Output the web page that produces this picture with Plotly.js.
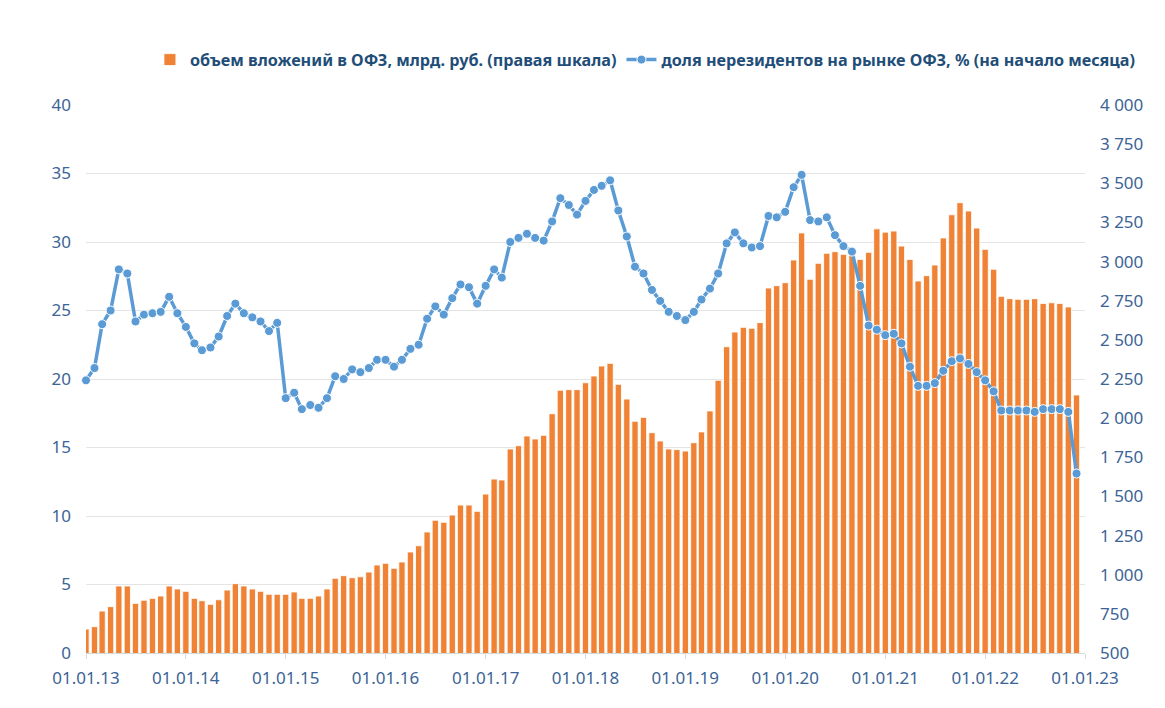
<!DOCTYPE html>
<html>
<head>
<meta charset="utf-8">
<script src="https://cdn.plot.ly/plotly-3.0.1.min.js"></script>
<style>
  html, body { margin: 0; padding: 0; background: #ffffff; }
  #chart { width: 1165px; height: 708px; }
</style>
</head>
<body>
<div id="chart"></div>
<script>
// Monthly observations, Jan 2013 .. Dec 2022
const startYear = 2013;
const monthCount = 120;

// Share of non-residents in OFZ market, % (left axis)
const shareNonResidents = [
  19.9, 20.8, 24.0, 25.0, 28.0, 27.7, 24.2, 24.7, 24.8, 24.9, 26.0, 24.8,
  23.8, 22.6, 22.1, 22.3, 23.1, 24.6, 25.5, 24.8, 24.5, 24.2, 23.5, 24.1,
  18.6, 19.0, 17.8, 18.1, 17.9, 18.6, 20.2, 20.0, 20.7, 20.5, 20.8, 21.4,
  21.4, 20.9, 21.4, 22.2, 22.5, 24.4, 25.3, 24.7, 25.9, 26.9, 26.7, 25.5,
  26.8, 28.0, 27.4, 30.0, 30.3, 30.6, 30.3, 30.1, 31.5, 33.2, 32.7, 32.0,
  33.0, 33.8, 34.1, 34.5, 32.3, 30.4, 28.2, 27.7, 26.5, 25.7, 24.9, 24.6,
  24.3, 24.9, 25.8, 26.6, 27.7, 29.9, 30.7, 29.9, 29.6, 29.7, 31.9, 31.8,
  32.2, 34.0, 34.9, 31.6, 31.5, 31.8, 30.5, 29.7, 29.3, 26.8, 23.9, 23.6,
  23.2, 23.3, 22.6, 20.9, 19.5, 19.5, 19.7, 20.6, 21.3, 21.5, 21.1, 20.5,
  19.9, 19.1, 17.7, 17.7, 17.7, 17.7, 17.6, 17.8, 17.8, 17.8, 17.6, 13.1
];

// Volume of non-resident OFZ holdings, bn rub (right axis)
const volumeOFZ = [
  653, 668, 768, 796, 928, 928, 817, 837, 849, 864, 928, 909,
  894, 849, 834, 811, 840, 902, 943, 928, 909, 894, 875, 875,
  875, 890, 849, 849, 864, 909, 977, 994, 981, 987, 1017, 1062,
  1073, 1041, 1081, 1145, 1185, 1273, 1348, 1335, 1381, 1445, 1445, 1405,
  1515, 1611, 1605, 1803, 1824, 1886, 1867, 1890, 2028, 2178, 2182, 2182,
  2226, 2269, 2333, 2350, 2216, 2122, 1980, 2005, 1907, 1854, 1803, 1799,
  1790, 1843, 1912, 2046, 2242, 2456, 2550, 2580, 2574, 2610, 2831, 2846,
  2865, 3010, 3183, 2887, 2989, 3053, 3063, 3046, 3082, 3014, 3059, 3209,
  3188, 3195, 3099, 3014, 2876, 2910, 2978, 3151, 3299, 3376, 3323, 3214,
  3078, 2951, 2778, 2763, 2759, 2759, 2763, 2733, 2737, 2733, 2710, 2148
];

const tickLabels = ['01.01.13','01.01.14','01.01.15','01.01.16','01.01.17','01.01.18',
                    '01.01.19','01.01.20','01.01.21','01.01.22','01.01.23'];

const seriesNames = [
  'объем вложений в ОФЗ, млрд. руб. (правая шкала)',
  'доля нерезидентов на рынке ОФЗ, % (на начало месяца)'
];

function pad(n) { return (n < 10 ? '0' : '') + n; }
const months = [];
for (let i = 0; i < monthCount; i++) {
  const y = startYear + Math.floor(i / 12);
  const m = (i % 12) + 1;
  months.push(y + '-' + pad(m) + '-01');
}
const tickDates = tickLabels.map((t, i) => (startYear + i) + '-01-01');

const tickColor = '#3C6496';
const fontFam = '"Noto Sans", "Open Sans", sans-serif';

const barTrace = {
  type: 'bar',
  name: seriesNames[0],
  x: months,
  y: volumeOFZ,
  yaxis: 'y',
  marker: { color: '#EF8234', line: { color: 'rgba(255,255,255,0.85)', width: 1 } },
  hoverinfo: 'x+y'
};

const lineTrace = {
  type: 'scatter',
  mode: 'lines+markers',
  name: seriesNames[1],
  x: months,
  y: shareNonResidents,
  yaxis: 'y2',
  cliponaxis: false,
  line: { color: '#5B9BD5', width: 3.5 },
  marker: { color: '#5B9BD5', size: 9, line: { color: '#FFFFFF', width: 1 } }
};

const layout = {
  width: 1165,
  height: 708,
  margin: { l: 86, r: 80, t: 105, b: 55 },
  paper_bgcolor: '#FFFFFF',
  plot_bgcolor: 'rgba(0,0,0,0)',
  font: { family: fontFam, size: 17, color: tickColor },
  bargap: 0.18,
  showlegend: true,
  legend: {
    orientation: 'h',
    x: 0.064, xanchor: 'left',
    y: 1.082, yanchor: 'middle',
    font: { family: fontFam, size: 16.2, color: '#1F4E79', weight: 'bold' },
    traceorder: 'normal',
    itemwidth: 30
  },
  xaxis: {
    type: 'date',
    range: ['2013-01-01', '2023-01-01'],
    tickvals: tickDates,
    ticktext: tickLabels,
    ticks: 'outside',
    ticklen: 5,
    tickcolor: '#D9D9D9',
    ticklabelstandoff: 5,
    showgrid: false,
    showline: true,
    linecolor: '#D9D9D9',
    linewidth: 1,
    zeroline: false,
    tickfont: { size: 17, color: tickColor }
  },
  yaxis: {
    side: 'right',
    range: [500, 4000],
    dtick: 250,
    tick0: 500,
    showgrid: false,
    zeroline: false,
    separatethousands: true,
    ticklabelstandoff: 14,
    tickfont: { size: 17, color: tickColor }
  },
  yaxis2: {
    overlaying: 'y',
    side: 'left',
    range: [0, 40],
    dtick: 5,
    showgrid: true,
    gridcolor: '#E4E4E4',
    gridwidth: 1,
    zeroline: false,
    ticklabelstandoff: 14,
    tickfont: { size: 17, color: tickColor }
  },
  separators: ', '
};

Plotly.newPlot('chart', [barTrace, lineTrace], layout, { displayModeBar: false, staticPlot: true });
</script>
</body>
</html>
